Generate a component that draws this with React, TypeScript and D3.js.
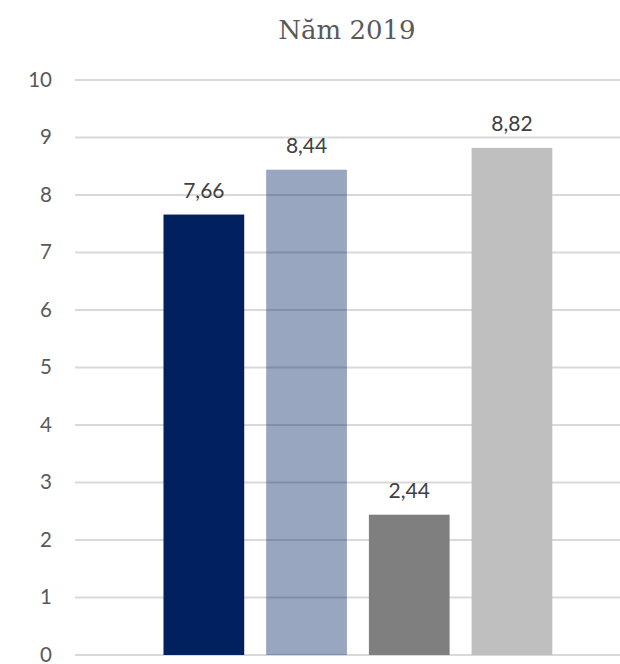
import React from "react";
import * as d3 from "d3";

const categories = ["A", "B", "C", "D"];
const values = [7.66, 8.44, 2.44, 8.82];
const labels = ["7,66", "8,44", "2,44", "8,82"];
const colors = ["#002060", "#002060", "#7f7f7f", "#bfbfbf"];
const opacities = [1, 0.4, 1, 1];
const yTicks = [0, 1, 2, 3, 4, 5, 6, 7, 8, 9, 10];
const title = "Năm 2019";

const W = 620;
const H = 664;

export default function App() {
  const y = d3.scaleLinear().domain([0, 10]).range([655, 80]);
  const x = d3
    .scaleBand<string>()
    .domain(categories)
    .range([152.5, 563.3])
    .paddingInner(0.214)
    .paddingOuter(0.107);

  return (
    <svg
      width={W}
      height={H}
      style={{ position: "absolute", left: 0, top: 0, background: "#fff" }}
    >
      <text
        x={347}
        y={39}
        textAnchor="middle"
        fontFamily="'DejaVu Serif', serif"
        fontSize={26}
        fill="#595959"
      >
        {title}
      </text>
      {yTicks.map((t) => (
        <g key={t}>
          <line
            x1={75}
            x2={W}
            y1={y(t)}
            y2={y(t)}
            stroke="#d9d9d9"
            strokeWidth={2}
          />
          <text
            x={52}
            y={y(t)}
            dy="0.33em"
            textAnchor="end"
            fontFamily="Lato, sans-serif"
            fontSize={20.5}
            fill="#595959"
          >
            {t}
          </text>
        </g>
      ))}
      {categories.map((c, i) => (
        <g key={c}>
          <rect
            x={x(c)}
            y={y(values[i])}
            width={x.bandwidth()}
            height={y(0) - y(values[i])}
            fill={colors[i]}
            fillOpacity={opacities[i]}
          />
          <text
            x={(x(c) as number) + x.bandwidth() / 2}
            y={y(values[i]) - 17}
            textAnchor="middle"
            fontFamily="Lato, sans-serif"
            fontSize={21}
            fill="#404040"
          >
            {labels[i]}
          </text>
        </g>
      ))}
    </svg>
  );
}
